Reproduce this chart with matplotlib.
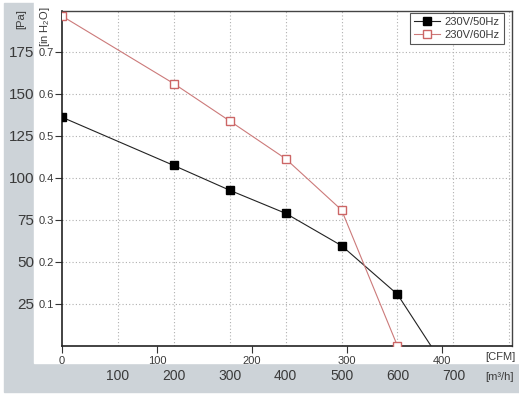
#!/usr/bin/env python3

import numpy as np
import matplotlib.pyplot as plt
from matplotlib.patches import Rectangle

# flow in m3/h, pressure in inH2O
flow_50 = [0, 200, 300, 400, 500, 600, 660]
press_50 = [0.545, 0.430, 0.371, 0.316, 0.239, 0.123, 0.0]
mark_50 = [0, 1, 2, 3, 4, 5]

flow_60 = [0, 200, 300, 400, 500, 600]
press_60 = [0.786, 0.625, 0.536, 0.446, 0.324, 0.0]

cfm_ticks = [0, 100, 200, 300, 400]
m3h_ticks = [100, 200, 300, 400, 500, 600, 700]
inh2o_ticks = [0.1, 0.2, 0.3, 0.4, 0.5, 0.6, 0.7]
pa_ticks = [25, 50, 75, 100, 125, 150, 175]

M3H_PER_CFM = 1.699
PA_PER_INH2O = 249.09

plt.rcParams['font.family'] = ['Liberation Sans', 'DejaVu Sans']
txt = '#3a3a3a'
W, H = 519, 396

fig = plt.figure(figsize=(W / 100, H / 100), dpi=100)
fig.patch.set_facecolor('white')
# grey frame band left and bottom
fig.patches.append(Rectangle((4 / W, 1 - 392 / H), 515 / W, 389 / H,
                             transform=fig.transFigure, color='#cdd3d8', zorder=-10))
fig.patches.append(Rectangle((34 / W, 1 - 363 / H), 485 / W, 363 / H,
                             transform=fig.transFigure, color='white', zorder=-9))

ax = fig.add_axes([62 / W, 1 - 346 / H, 450 / W, 335 / H])
ax.set_facecolor('none')

x50 = np.array(flow_50) / M3H_PER_CFM
x60 = np.array(flow_60) / M3H_PER_CFM
ax.plot(x50, press_50, color='#222222', lw=0.8, marker='s', ms=5.5,
        markevery=mark_50, mfc='black', mec='black', label='230V/50Hz', zorder=3)
ax.plot(x60, press_60, color='#cc7a7a', lw=0.8, marker='s', ms=5.5,
        mfc='white', mec='#cc6666', label='230V/60Hz', zorder=3)

ax.set_xlim(0, 450 / 0.95)
ax.set_ylim(0, 0.798)

for v in m3h_ticks + [800]:
    ax.axvline(v / M3H_PER_CFM, color='#b0b0b0', lw=0.8, ls=(0, (1, 2)), zorder=1)
for v in inh2o_ticks:
    ax.axhline(v, color='#b0b0b0', lw=0.8, ls=(0, (1, 2)), zorder=1)

ax.set_xticks(cfm_ticks)
ax.set_xticklabels([str(t) for t in cfm_ticks])
ax.set_yticks(inh2o_ticks)
ax.set_yticklabels(['%.1f' % t for t in inh2o_ticks])
ax.tick_params(axis='both', length=5, width=0.8, colors='#333333',
               labelsize=8, labelcolor=txt, pad=1)
ax.tick_params(axis='x', pad=2)

for s in ['left', 'bottom']:
    ax.spines[s].set_linewidth(1.2)
    ax.spines[s].set_color('#222222')
for s in ['top', 'right']:
    ax.spines[s].set_linewidth(1.0)
    ax.spines[s].set_color('#444444')

# m3/h scale below
sx = ax.secondary_xaxis(-0.07, functions=(lambda c: c * M3H_PER_CFM,
                                          lambda m: m / M3H_PER_CFM))
sx.set_xticks(m3h_ticks)
sx.tick_params(length=0, labelsize=10, labelcolor=txt, pad=0)
sx.spines['bottom'].set_visible(False)

# Pa scale left
sy = ax.secondary_yaxis(-0.062, functions=(lambda p: p * PA_PER_INH2O,
                                           lambda p: p / PA_PER_INH2O))
sy.set_yticks(pa_ticks)
sy.tick_params(length=0, labelsize=11, labelcolor=txt, pad=0)
sy.spines['left'].set_visible(False)

fig.text(500 / W, 1 - 357 / H, '[CFM]', fontsize=8, color=txt, ha='center', va='center')
fig.text(500 / W, 1 - 377 / H, '[m³/h]', fontsize=8, color=txt, ha='center', va='center')
fig.text(21 / W, 1 - 19 / H, '[Pa]', fontsize=8, color=txt, rotation=90,
         ha='center', va='center')
fig.text(45 / W, 1 - 27 / H, r'[in H$_\mathregular{2}$O]', fontsize=8, color=txt,
         rotation=90, ha='center', va='center')

leg = ax.legend(loc='upper right', bbox_to_anchor=(0.982, 0.994), borderaxespad=0,
                fancybox=False, edgecolor='#555555', framealpha=1, fontsize=8,
                handlelength=2.4, handletextpad=0.4, labelspacing=0.3,
                borderpad=0.35)
leg.get_frame().set_linewidth(0.8)
for t in leg.get_texts():
    t.set_color(txt)

fig.savefig('out.png', dpi=100)
